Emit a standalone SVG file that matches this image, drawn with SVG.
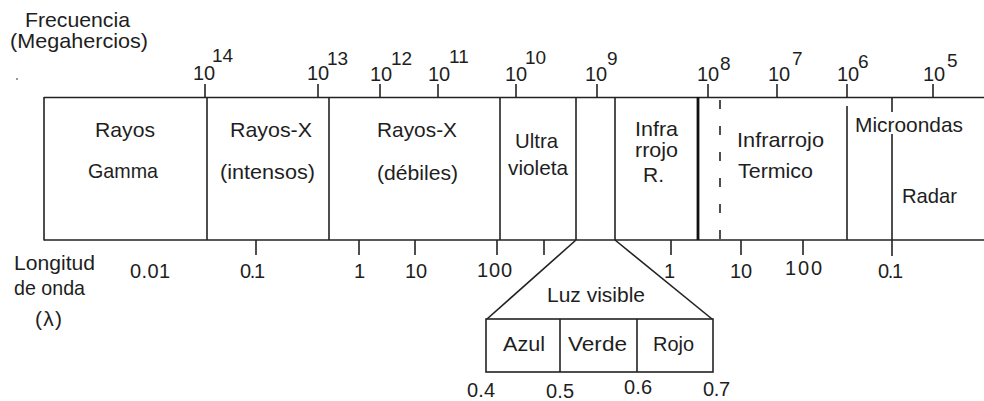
<svg xmlns="http://www.w3.org/2000/svg" width="984" height="401" viewBox="0 0 984 401">
<style>
  text { font-family: "Liberation Sans", Arial, sans-serif; fill: #1e1e1e; }
  .lbl { font-size: 21px; }
  .num { font-size: 20px; }
  .sup { font-size: 19px; }
  .ln { stroke: #222; stroke-width: 1.6; fill: none; }
  .bold { stroke: #111; stroke-width: 2.8; fill: none; }
  .dash { stroke: #222; stroke-width: 1.6; stroke-dasharray: 9 17; fill: none; }
</style>
<rect width="984" height="401" fill="#ffffff"/>

<g id="title">
  <text class="lbl" x="25" y="27" textLength="105" lengthAdjust="spacingAndGlyphs">Frecuencia</text>
  <text class="lbl" x="10" y="48" textLength="138" lengthAdjust="spacingAndGlyphs">(Megahercios)</text>
  <circle cx="17" cy="79" r="1" fill="#777"/>
</g>

<g id="frame">
  <line class="ln" x1="44" y1="97.5" x2="984" y2="97.5"/>
  <line class="ln" x1="44" y1="240" x2="984" y2="240"/>
  <line class="ln" x1="44" y1="97" x2="44" y2="240.5"/>
  <line class="ln" x1="207" y1="97" x2="207" y2="240"/>
  <line class="ln" x1="329" y1="97" x2="329" y2="240"/>
  <line class="ln" x1="500" y1="97" x2="500" y2="240"/>
  <line class="ln" x1="576" y1="97" x2="576" y2="240"/>
  <line class="ln" x1="615" y1="97" x2="615" y2="240"/>
  <line class="bold" x1="698" y1="97" x2="698" y2="240"/>
  <line class="dash" x1="720" y1="100" x2="720" y2="240"/>
  <line class="ln" x1="847" y1="106" x2="847" y2="240"/>
  <line class="ln" x1="892" y1="97" x2="892" y2="112"/>
  <line class="ln" x1="892" y1="134" x2="892" y2="256"/>
</g>

<g id="freq-ticks">
  <line class="ln" x1="205" y1="84" x2="205" y2="97"/>
  <line class="ln" x1="318" y1="84" x2="318" y2="97"/>
  <line class="ln" x1="380" y1="84" x2="380" y2="97"/>
  <line class="ln" x1="438" y1="84" x2="438" y2="97"/>
  <line class="ln" x1="516" y1="84" x2="516" y2="97"/>
  <line class="ln" x1="597" y1="84" x2="597" y2="97"/>
  <line class="ln" x1="708" y1="84" x2="708" y2="97"/>
  <line class="ln" x1="777" y1="84" x2="777" y2="97"/>
  <line class="ln" x1="847" y1="84" x2="847" y2="97"/>
  <line class="ln" x1="933" y1="84" x2="933" y2="97"/>
</g>

<g id="freq-labels">
  <text class="num" x="193" y="80">10</text>
  <text class="sup" x="212" y="62">14</text>
  <text class="num" x="307" y="80">10</text>
  <text class="sup" x="327" y="65">13</text>
  <text class="num" x="370" y="81">10</text>
  <text class="sup" x="391" y="65">12</text>
  <text class="num" x="428" y="81">10</text>
  <text class="sup" x="449" y="63">11</text>
  <text class="num" x="505" y="81">10</text>
  <text class="sup" x="525" y="64">10</text>
  <text class="num" x="585" y="81">10</text>
  <text class="sup" x="607" y="65">9</text>
  <text class="num" x="697" y="81">10</text>
  <text class="sup" x="720" y="70">8</text>
  <text class="num" x="768" y="81">10</text>
  <text class="sup" x="792" y="65">7</text>
  <text class="num" x="837" y="81">10</text>
  <text class="sup" x="858" y="68">6</text>
  <text class="num" x="923" y="81">10</text>
  <text class="sup" x="947" y="67">5</text>
</g>

<g id="gamma">
  <text class="lbl" x="95" y="137" textLength="60" lengthAdjust="spacingAndGlyphs">Rayos</text>
  <text class="lbl" x="88" y="178" textLength="70" lengthAdjust="spacingAndGlyphs">Gamma</text>
</g>
<g id="rayos-x-intensos">
  <text class="lbl" x="230" y="137" textLength="82" lengthAdjust="spacingAndGlyphs">Rayos-X</text>
  <text class="lbl" x="220" y="179" textLength="95" lengthAdjust="spacingAndGlyphs">(intensos)</text>
</g>
<g id="rayos-x-debiles">
  <text class="lbl" x="377" y="137" textLength="80" lengthAdjust="spacingAndGlyphs">Rayos-X</text>
  <text class="lbl" x="377" y="180" textLength="81" lengthAdjust="spacingAndGlyphs">(débiles)</text>
</g>
<g id="ultravioleta">
  <text class="lbl" x="515" y="148" textLength="43" lengthAdjust="spacingAndGlyphs">Ultra</text>
  <text class="lbl" x="508" y="175" textLength="60" lengthAdjust="spacingAndGlyphs">violeta</text>
</g>
<g id="infrarrojo-r">
  <text class="lbl" x="635" y="136" textLength="43" lengthAdjust="spacingAndGlyphs">Infra</text>
  <text class="lbl" x="635" y="157" textLength="43" lengthAdjust="spacingAndGlyphs">rrojo</text>
  <text class="lbl" x="643" y="182">R.</text>
</g>
<g id="infrarrojo-termico">
  <text class="lbl" x="737" y="147" textLength="87" lengthAdjust="spacingAndGlyphs">Infrarrojo</text>
  <text class="lbl" x="738" y="178" textLength="75" lengthAdjust="spacingAndGlyphs">Termico</text>
</g>
<g id="microondas">
  <text class="lbl" x="855" y="132" textLength="108" lengthAdjust="spacingAndGlyphs">Microondas</text>
</g>
<g id="radar">
  <text class="lbl" x="902" y="203" textLength="55" lengthAdjust="spacingAndGlyphs">Radar</text>
</g>

<g id="wave-ticks">
  <line class="ln" x1="256" y1="240" x2="256" y2="255"/>
  <line class="ln" x1="359" y1="240" x2="359" y2="255"/>
  <line class="ln" x1="415" y1="240" x2="415" y2="255"/>
  <line class="ln" x1="497" y1="240" x2="497" y2="255"/>
  <line class="ln" x1="544" y1="240" x2="544" y2="255"/>
  <line class="ln" x1="671" y1="240" x2="671" y2="255"/>
  <line class="ln" x1="741" y1="240" x2="741" y2="255"/>
  <line class="ln" x1="803" y1="240" x2="803" y2="255"/>
</g>

<g id="wave-labels">
  <text class="lbl" x="14" y="270" textLength="81" lengthAdjust="spacingAndGlyphs">Longitud</text>
  <text class="lbl" x="14" y="295" textLength="71" lengthAdjust="spacingAndGlyphs">de onda</text>
  <text class="lbl" x="35" y="326" textLength="27" lengthAdjust="spacing">(λ)</text>
  <text class="num" x="130" y="278" textLength="40" lengthAdjust="spacing">0.01</text>
  <text class="num" x="240" y="278" textLength="25" lengthAdjust="spacing">0.1</text>
  <text class="num" x="354" y="278">1</text>
  <text class="num" x="405" y="278" textLength="22" lengthAdjust="spacing">10</text>
  <text class="num" x="477" y="277" textLength="35" lengthAdjust="spacing">100</text>
  <text class="num" x="664" y="278">1</text>
  <text class="num" x="730" y="278" textLength="22" lengthAdjust="spacing">10</text>
  <text class="num" x="785" y="275" textLength="37" lengthAdjust="spacing">100</text>
  <text class="num" x="878" y="278" textLength="25" lengthAdjust="spacing">0.1</text>
</g>

<g id="connectors">
  <line class="ln" x1="576" y1="240" x2="487" y2="319"/>
  <line class="ln" x1="615" y1="240" x2="712" y2="319"/>
</g>

<g id="luz-visible">
  <text class="lbl" x="547" y="302" textLength="98" lengthAdjust="spacingAndGlyphs">Luz visible</text>
  <rect class="ln" x="486" y="319" width="227" height="53"/>
  <line class="ln" x1="560" y1="319" x2="560" y2="372"/>
  <line class="ln" x1="637" y1="319" x2="637" y2="372"/>
  <text class="lbl" x="503" y="351" textLength="42" lengthAdjust="spacingAndGlyphs">Azul</text>
  <text class="lbl" x="568" y="351" textLength="59" lengthAdjust="spacingAndGlyphs">Verde</text>
  <text class="lbl" x="653" y="351" textLength="41" lengthAdjust="spacingAndGlyphs">Rojo</text>
  <text class="num" x="467" y="397" textLength="28" lengthAdjust="spacing">0.4</text>
  <text class="num" x="546" y="398" textLength="28" lengthAdjust="spacing">0.5</text>
  <text class="num" x="624" y="394" textLength="28" lengthAdjust="spacing">0.6</text>
  <text class="num" x="703" y="396" textLength="27" lengthAdjust="spacing">0.7</text>
</g>
</svg>
